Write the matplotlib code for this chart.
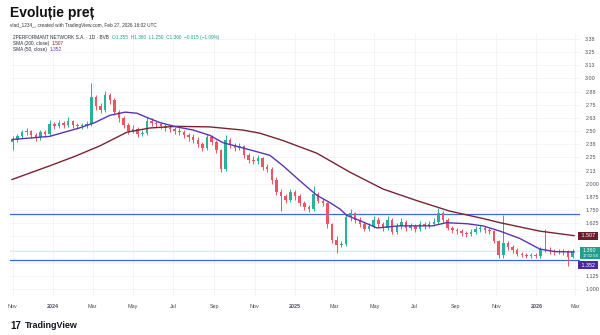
import matplotlib
matplotlib.use("Agg")
import matplotlib.pyplot as plt
import matplotlib.dates as mdates
import matplotlib.transforms as mtransforms
from matplotlib.patches import Rectangle
import numpy as np
import pandas as pd

plt.rcParams['font.family'] = ['Liberation Sans', 'DejaVu Sans']

# weekly candles, one per trading week (Wednesday of the week)
week_dates = pd.date_range('2023-11-01', periods=122, freq='7D')

opens = [2.40, 2.42, 2.45, 2.49, 2.50, 2.46, 2.44, 2.49, 2.47, 2.57,
         2.55, 2.58, 2.56, 2.60, 2.56, 2.55, 2.55, 2.57, 2.82, 2.74,
         2.70, 2.84, 2.80, 2.68, 2.62, 2.56, 2.50, 2.52, 2.47, 2.48,
         2.60, 2.58, 2.57, 2.55, 2.53, 2.52, 2.50, 2.49, 2.46, 2.44,
         2.42, 2.38, 2.34, 2.44, 2.40, 2.32, 2.14, 2.42, 2.37, 2.34,
         2.36, 2.27, 2.23, 2.22, 2.24, 2.16, 2.14, 2.04, 1.92, 1.88,
         1.85, 1.92, 1.88, 1.82, 1.78, 1.76, 1.90, 1.84, 1.82, 1.62,
         1.47, 1.42, 1.43, 1.68, 1.72, 1.66, 1.62, 1.57, 1.60, 1.66,
         1.62, 1.58, 1.66, 1.54, 1.60, 1.64, 1.58, 1.60, 1.57, 1.62,
         1.60, 1.62, 1.64, 1.72, 1.66, 1.58, 1.56, 1.55, 1.53, 1.52,
         1.54, 1.57, 1.58, 1.56, 1.55, 1.46, 1.32, 1.44, 1.40, 1.37,
         1.33, 1.32, 1.31, 1.32, 1.31, 1.38, 1.37, 1.36, 1.35, 1.36,
         1.35, 1.30]
highs = [2.45, 2.47, 2.51, 2.53, 2.51, 2.48, 2.51, 2.51, 2.61, 2.59,
         2.61, 2.60, 2.63, 2.61, 2.58, 2.58, 2.60, 2.96, 2.84, 2.77,
         2.88, 2.86, 2.81, 2.70, 2.64, 2.58, 2.56, 2.54, 2.51, 2.63,
         2.62, 2.60, 2.59, 2.57, 2.56, 2.54, 2.53, 2.51, 2.48, 2.47,
         2.44, 2.40, 2.47, 2.46, 2.42, 2.33, 2.46, 2.43, 2.39, 2.39,
         2.37, 2.29, 2.26, 2.27, 2.25, 2.19, 2.16, 2.06, 1.95, 1.90,
         1.95, 1.94, 1.90, 1.84, 1.80, 1.98, 1.92, 1.86, 1.83, 1.63,
         1.50, 1.46, 1.71, 1.76, 1.73, 1.68, 1.64, 1.63, 1.69, 1.68,
         1.64, 1.69, 1.67, 1.63, 1.67, 1.66, 1.63, 1.62, 1.65, 1.64,
         1.65, 1.67, 1.77, 1.74, 1.67, 1.60, 1.58, 1.57, 1.55, 1.57,
         1.60, 1.61, 1.60, 1.58, 1.56, 1.47, 1.70, 1.46, 1.42, 1.39,
         1.35, 1.34, 1.34, 1.34, 1.40, 1.57, 1.40, 1.38, 1.38, 1.38,
         1.37, 1.38]
lows = [2.32, 2.40, 2.43, 2.46, 2.43, 2.41, 2.42, 2.44, 2.45, 2.52,
        2.53, 2.53, 2.54, 2.53, 2.52, 2.52, 2.53, 2.55, 2.70, 2.67,
        2.68, 2.76, 2.65, 2.59, 2.53, 2.47, 2.48, 2.44, 2.45, 2.46,
        2.55, 2.54, 2.52, 2.50, 2.49, 2.47, 2.46, 2.43, 2.41, 2.39,
        2.35, 2.31, 2.32, 2.37, 2.29, 2.11, 2.12, 2.34, 2.31, 2.32,
        2.24, 2.20, 2.19, 2.19, 2.13, 2.11, 2.00, 1.89, 1.74, 1.82,
        1.83, 1.85, 1.79, 1.75, 1.73, 1.74, 1.82, 1.79, 1.58, 1.44,
        1.34, 1.40, 1.41, 1.65, 1.63, 1.59, 1.55, 1.55, 1.58, 1.59,
        1.55, 1.56, 1.52, 1.52, 1.57, 1.55, 1.56, 1.54, 1.55, 1.57,
        1.58, 1.60, 1.62, 1.63, 1.56, 1.53, 1.52, 1.50, 1.49, 1.50,
        1.52, 1.54, 1.53, 1.52, 1.44, 1.29, 1.29, 1.37, 1.34, 1.31,
        1.30, 1.29, 1.29, 1.29, 1.29, 1.35, 1.33, 1.32, 1.33, 1.32,
        1.22, 1.29]
closes = [2.42, 2.45, 2.49, 2.50, 2.46, 2.44, 2.49, 2.47, 2.57, 2.55,
          2.58, 2.56, 2.60, 2.56, 2.55, 2.55, 2.57, 2.82, 2.74, 2.70,
          2.84, 2.80, 2.68, 2.62, 2.56, 2.50, 2.52, 2.47, 2.48, 2.60,
          2.58, 2.57, 2.55, 2.53, 2.52, 2.50, 2.49, 2.46, 2.44, 2.42,
          2.38, 2.34, 2.44, 2.40, 2.32, 2.14, 2.42, 2.37, 2.34, 2.36,
          2.27, 2.23, 2.22, 2.24, 2.16, 2.14, 2.04, 1.92, 1.88, 1.85,
          1.92, 1.88, 1.82, 1.78, 1.76, 1.90, 1.84, 1.82, 1.62, 1.47,
          1.42, 1.43, 1.68, 1.72, 1.66, 1.62, 1.57, 1.60, 1.66, 1.62,
          1.58, 1.66, 1.54, 1.60, 1.64, 1.58, 1.60, 1.57, 1.62, 1.60,
          1.62, 1.64, 1.72, 1.66, 1.58, 1.56, 1.55, 1.53, 1.52, 1.54,
          1.57, 1.58, 1.56, 1.55, 1.46, 1.32, 1.44, 1.40, 1.37, 1.33,
          1.32, 1.31, 1.32, 1.31, 1.38, 1.37, 1.36, 1.35, 1.36, 1.35,
          1.30, 1.36]

sma50_dates = ['2023-10-31', '2023-12-27', '2024-02-10', '2024-03-04', '2024-03-27',
               '2024-04-19', '2024-05-07', '2024-05-22', '2024-06-11', '2024-07-06',
               '2024-07-31', '2024-08-25', '2024-09-14', '2024-10-14', '2024-11-01',
               '2024-11-24', '2024-12-14', '2025-01-08', '2025-02-03', '2025-02-23',
               '2025-03-10', '2025-03-20', '2025-04-09', '2025-05-05', '2025-06-08',
               '2025-07-28', '2025-08-18', '2025-09-18', '2025-10-12', '2025-11-07',
               '2025-12-07', '2026-01-06', '2026-01-29', '2026-02-27']
sma50_vals = [2.42, 2.45, 2.53, 2.58, 2.65, 2.68, 2.67, 2.63, 2.58, 2.54,
              2.51, 2.46, 2.39, 2.34, 2.31, 2.27, 2.17, 2.03, 1.89, 1.82,
              1.76, 1.70, 1.65, 1.58, 1.60, 1.60, 1.63, 1.62, 1.60, 1.55,
              1.48, 1.38, 1.355, 1.352]

sma200_dates = ['2023-10-31', '2023-12-27', '2024-02-03', '2024-03-12', '2024-04-22',
                '2024-05-27', '2024-07-06', '2024-08-25', '2024-10-14', '2024-11-09',
                '2024-12-14', '2025-02-03', '2025-03-25', '2025-05-14', '2025-07-04',
                '2025-08-23', '2025-10-12', '2025-11-07', '2025-12-22', '2026-01-06',
                '2026-02-27']
sma200_vals = [2.04, 2.17, 2.26, 2.36, 2.49, 2.53, 2.545, 2.54, 2.51, 2.48,
               2.41, 2.29, 2.11, 1.95, 1.84, 1.74, 1.67, 1.63, 1.57, 1.55, 1.507]

levels = [1.715, 1.278]
last_price = 1.36

month_ticks = ['2023-11-01', '2024-01-01', '2024-03-01', '2024-05-01', '2024-07-01',
               '2024-09-01', '2024-11-01', '2025-01-01', '2025-03-01', '2025-05-01',
               '2025-07-01', '2025-09-01', '2025-11-01', '2026-01-01', '2026-03-01']
month_labels = ['Nov', '2024', 'Mar', 'May', 'Jul', 'Sep', 'Nov', '2025',
                'Mar', 'May', 'Jul', 'Sep', 'Nov', '2026', 'Mar']

price_ticks = [3.375 - 0.125 * i for i in range(20)]
price_labels = ['3.38', '3.25', '3.13', '3.00', '2.88', '2.75', '2.63', '2.50', '2.38',
                '2.25', '2.13', '2.000', '1.875', '1.750', '1.625', '', '', '',
                '1.125', '1.000']

UP = '#2bb09b'
DOWN = '#ef5461'
SMA200_C = '#7a2430'
SMA50_C = '#5a35b0'
LEVEL_C = '#4066e0'
GRID_C = '#f0f2f6'
TEXT_C = '#4a4e5a'

fig = plt.figure(figsize=(6, 3.35), dpi=100)
ax = fig.add_axes([10 / 600, 1 - 297 / 335, 570 / 600, 264 / 335])

x = mdates.date2num(week_dates)
o = np.array(opens)
h = np.array(highs)
lo = np.array(lows)
c = np.array(closes)
colors = [UP if cc >= oo else DOWN for oo, cc in zip(o, c)]

ax.vlines(x, lo, h, colors=colors, lw=0.7, zorder=3)
body_bottom = np.minimum(o, c)
body_height = np.maximum(np.abs(c - o), 0.008)
ax.bar(x, body_height, bottom=body_bottom, width=3.8, color=colors, lw=0, zorder=4)

ax.plot(pd.to_datetime(sma200_dates), sma200_vals, color=SMA200_C, lw=1.0, zorder=5)
ax.plot(pd.to_datetime(sma50_dates), sma50_vals, color=SMA50_C, lw=1.0, zorder=5)

for lv in levels:
    ax.axhline(lv, color=LEVEL_C, lw=0.9, zorder=2)
ax.axhline(last_price, color='#cdece6', lw=0.6, zorder=1)

ax.set_xlim(pd.Timestamp('2023-10-28'), pd.Timestamp('2026-03-08'))
ax.set_ylim(0.924, 3.432)

ax.set_xticks(pd.to_datetime(month_ticks))
ax.set_xticklabels(month_labels)
for lab, txt in zip(ax.get_xticklabels(), month_labels):
    if txt.isdigit():
        lab.set_fontweight('bold')
        lab.set_color('#2a2e39')
ax.yaxis.tick_right()
ax.set_yticks(price_ticks)
ax.set_yticklabels(price_labels)
ax.tick_params(axis='both', length=0, labelsize=3.9, colors=TEXT_C)
ax.tick_params(axis='x', pad=5)
ax.tick_params(axis='y', pad=3.8)
ax.grid(True, color=GRID_C, lw=0.6)
ax.set_axisbelow(True)
for sp in ax.spines.values():
    sp.set_visible(False)

# price labels on the right scale
trans = mtransforms.blended_transform_factory(ax.transAxes, ax.transData)
ax.text(1.0, 1.507, ' 1.507 ', transform=trans, fontsize=3.9, color='white',
        va='center', ha='left', clip_on=False,
        bbox=dict(boxstyle='square,pad=0.3', fc='#6b1f2c', ec='none'))
ax.add_patch(Rectangle((1.0, 1.285), 0.035, 0.11, transform=trans, fc='#1fa08a',
                       ec='none', clip_on=False, zorder=6))
ax.text(1.004, 1.365, '1.360', transform=trans, fontsize=3.9, color='white',
        va='center', ha='left', clip_on=False, zorder=7)
ax.text(1.004, 1.31, '17:02:58', transform=trans, fontsize=3.0, color='white',
        va='center', ha='left', clip_on=False, zorder=7)
ax.annotate(' 1.352 ', xy=(1.0, 1.352), xycoords=trans, xytext=(0, -9.5),
            textcoords='offset points', fontsize=3.9, color='white',
            va='center', ha='left', annotation_clip=False,
            bbox=dict(boxstyle='square,pad=0.3', fc='#4a28a8', ec='none'))

# titles and legend
fig.text(10 / 600, 1 - 13 / 335, 'Evoluție preț', fontsize=10, fontweight='bold',
         color='#111111', va='center', ha='left')
fig.text(10 / 600, 1 - 26 / 335,
         'vlad_1234_, created with TradingView.com, Feb 27, 2026 16:02 UTC',
         fontsize=3.4, color='#333333', va='center', ha='left')

fig.canvas.draw()
r = fig.canvas.get_renderer()

y1 = 1 - 39 / 335
t = fig.text(13 / 600, y1, '2PERFORMANT NETWORK S.A. · 1D · BVB  ', fontsize=3.4,
             color='#2a2e39', va='baseline', ha='left')
bb = t.get_window_extent(r)
fig.text(bb.x1 / 600, y1, 'O1.355  H1.360  L1.250  C1.360  −0.015 (−1.09%)',
         fontsize=3.4, color='#1e9c87', va='baseline', ha='left')

y2 = 1 - 45 / 335
t2 = fig.text(13 / 600, y2, 'SMA (200, close)  ', fontsize=3.4, color='#2a2e39',
              va='baseline', ha='left')
bb2 = t2.get_window_extent(r)
fig.text(bb2.x1 / 600, y2, '1.507', fontsize=3.4, color=SMA200_C, va='baseline', ha='left')

y3 = 1 - 51 / 335
t3 = fig.text(13 / 600, y3, 'SMA (50, close)  ', fontsize=3.4, color='#2a2e39',
              va='baseline', ha='left')
bb3 = t3.get_window_extent(r)
fig.text(bb3.x1 / 600, y3, '1.352', fontsize=3.4, color=SMA50_C, va='baseline', ha='left')

# TradingView mark
fig.text(10 / 600, 1 - 326 / 335, '17', fontsize=7, fontweight='heavy',
         color='#131722', va='center', ha='left')
fig.text(25 / 600, 1 - 326 / 335, 'TradingView', fontsize=6.5, fontweight='bold',
         color='#131722', va='center', ha='left')

fig.savefig('out.png', dpi=100)
